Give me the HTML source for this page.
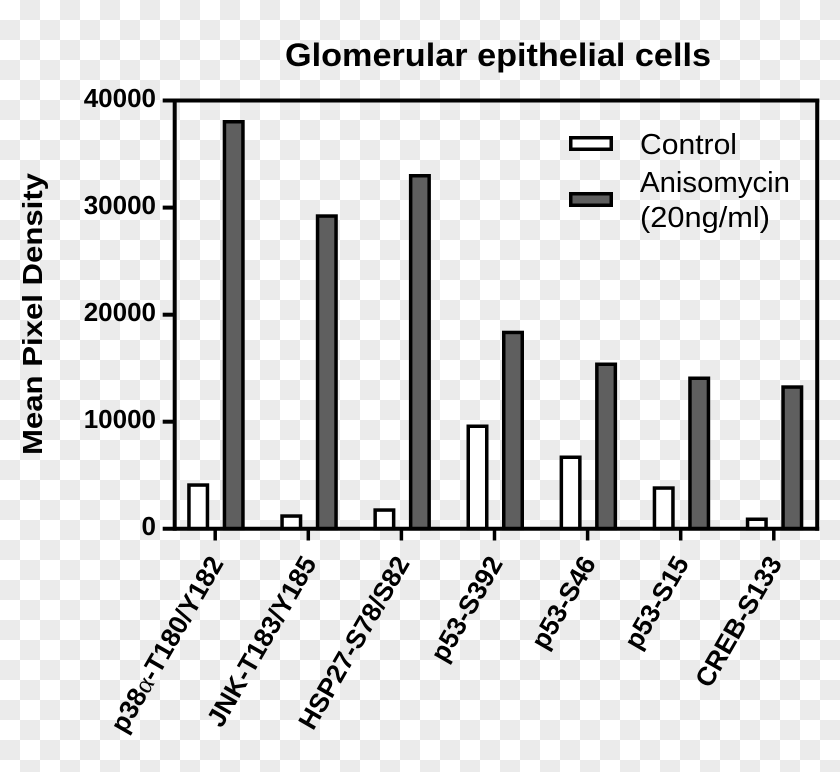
<!DOCTYPE html>
<html><head><meta charset="utf-8"><style>
html,body{margin:0;padding:0;width:840px;height:772px;overflow:hidden;background:#fff}
svg{display:block}
</style></head><body>
<svg width="840" height="772" viewBox="0 0 840 772" xmlns="http://www.w3.org/2000/svg">
<defs>
<pattern id="chk" width="40" height="40" patternUnits="userSpaceOnUse">
<rect width="40" height="40" fill="#ffffff"/>
<rect x="20" y="0" width="20" height="20" fill="#ebebeb"/>
<rect x="0" y="20" width="20" height="20" fill="#ebebeb"/>
</pattern>
</defs>
<rect width="840" height="772" fill="url(#chk)"/>

<text x="285" y="66" font-family="Liberation Sans, Arial, sans-serif" font-weight="bold" font-size="32" textLength="426" lengthAdjust="spacingAndGlyphs" fill="#000">Glomerular epithelial cells</text>

<text transform="translate(42,314) rotate(-90)" text-anchor="middle" font-family="Liberation Sans, Arial, sans-serif" font-weight="bold" font-size="28" textLength="282" lengthAdjust="spacingAndGlyphs" fill="#000">Mean Pixel Density</text>

<g font-family="Liberation Sans, Arial, sans-serif" font-weight="bold" font-size="26" text-anchor="end" fill="#000">
<text x="156" y="107">40000</text>
<text x="156" y="214">30000</text>
<text x="156" y="321">20000</text>
<text x="156" y="428">10000</text>
<text x="156" y="535">0</text>
</g>

<!-- bars -->
<g stroke="#000" stroke-width="3.5">
<rect x="188.95" y="485.05" width="18.5" height="43.75" fill="#fff"/>
<rect x="224.45" y="121.75" width="18.5" height="407.05" fill="#5f5f5f"/>
<rect x="282.05" y="516.05" width="18.5" height="12.75" fill="#fff"/>
<rect x="317.55" y="216.05" width="18.5" height="312.75" fill="#5f5f5f"/>
<rect x="375.15" y="510.05" width="18.5" height="18.75" fill="#fff"/>
<rect x="410.65" y="175.75" width="18.5" height="353.05" fill="#5f5f5f"/>
<rect x="468.25" y="426.25" width="18.5" height="102.55" fill="#fff"/>
<rect x="503.75" y="332.45" width="18.5" height="196.35" fill="#5f5f5f"/>
<rect x="561.35" y="457.25" width="18.5" height="71.55" fill="#fff"/>
<rect x="596.85" y="364.25" width="18.5" height="164.55" fill="#5f5f5f"/>
<rect x="654.45" y="488.05" width="18.5" height="40.75" fill="#fff"/>
<rect x="689.95" y="378.25" width="18.5" height="150.55" fill="#5f5f5f"/>
<rect x="747.55" y="519.25" width="18.5" height="9.55" fill="#fff"/>
<rect x="783.05" y="387.05" width="18.5" height="141.75" fill="#5f5f5f"/>
</g>

<!-- axes / frame -->
<g stroke="#000" stroke-width="4" fill="none">
<line x1="174.7" y1="98.5" x2="174.7" y2="530.8"/>
<line x1="162.7" y1="100.5" x2="819.2" y2="100.5"/>
<line x1="817.2" y1="98.5" x2="817.2" y2="530.8"/>
<line x1="162.7" y1="528.8" x2="819.2" y2="528.8"/>
<line x1="162.7" y1="207.6" x2="174.7" y2="207.6"/>
<line x1="162.7" y1="314.7" x2="174.7" y2="314.7"/>
<line x1="162.7" y1="421.7" x2="174.7" y2="421.7"/>
</g>
<g stroke="#000" stroke-width="3.5">
<line x1="215.2" y1="528" x2="215.2" y2="540.5"/>
<line x1="308.3" y1="528" x2="308.3" y2="540.5"/>
<line x1="401.4" y1="528" x2="401.4" y2="540.5"/>
<line x1="494.5" y1="528" x2="494.5" y2="540.5"/>
<line x1="587.6" y1="528" x2="587.6" y2="540.5"/>
<line x1="680.7" y1="528" x2="680.7" y2="540.5"/>
<line x1="773.8" y1="528" x2="773.8" y2="540.5"/>
</g>

<!-- legend -->
<g stroke="#000" stroke-width="3.5">
<rect x="570.75" y="137.75" width="40.5" height="11.5" fill="#fff"/>
<rect x="570.75" y="193.75" width="40.5" height="11.5" fill="#5f5f5f"/>
</g>
<g font-family="Liberation Sans, Arial, sans-serif" font-size="29" fill="#000">
<text x="640" y="154" textLength="97" lengthAdjust="spacingAndGlyphs">Control</text>
<text x="640" y="192" textLength="150" lengthAdjust="spacingAndGlyphs">Anisomycin</text>
<text x="640" y="227" textLength="130" lengthAdjust="spacingAndGlyphs">(20ng/ml)</text>
</g>

<!-- x labels -->
<g font-family="Liberation Sans, Arial, sans-serif" font-weight="bold" font-size="26.5" text-anchor="end" fill="#000">
<text transform="translate(224.2,563) rotate(-60)">p38<tspan font-family="Liberation Serif, serif" font-weight="normal">α</tspan>-T180/Y182</text>
<text transform="translate(317.3,563) rotate(-60)">JNK-T183/Y185</text>
<text transform="translate(410.4,563) rotate(-60)">HSP27-S78/S82</text>
<text transform="translate(503.5,563) rotate(-60)">p53-S392</text>
<text transform="translate(596.6,563) rotate(-60)">p53-S46</text>
<text transform="translate(689.7,563) rotate(-60)">p53-S15</text>
<text transform="translate(782.8,563) rotate(-60)">CREB-S133</text>
</g>
</svg>
</body></html>
